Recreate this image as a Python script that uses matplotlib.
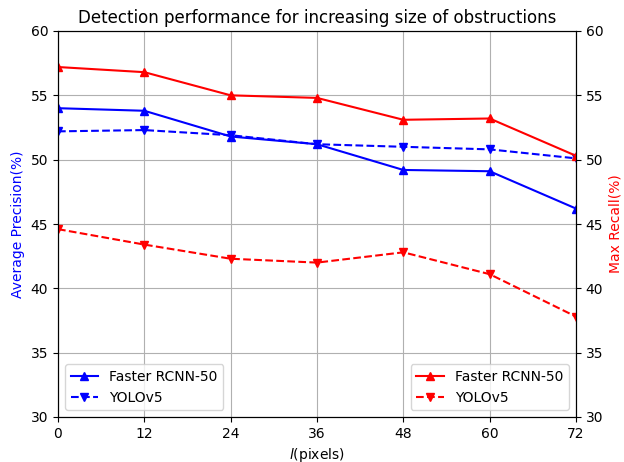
import matplotlib
matplotlib.use("Agg")
import matplotlib.pyplot as plt

x = [0, 12, 24, 36, 48, 60, 72]
ap_frcnn = [54.0, 53.8, 51.8, 51.2, 49.2, 49.1, 46.2]
ap_yolo = [52.2, 52.3, 51.9, 51.2, 51.0, 50.8, 50.1]
rec_frcnn = [57.2, 56.8, 55.0, 54.8, 53.1, 53.2, 50.3]
rec_yolo = [44.6, 43.4, 42.3, 42.0, 42.8, 41.1, 37.8]

fig, ax = plt.subplots(figsize=(6.24, 4.62), dpi=100)
fig.subplots_adjust(left=58/624, right=576/624, top=1-31/462, bottom=1-417/462)
ax.plot(x, ap_frcnn, color='blue', marker='^', linestyle='-', label='Faster RCNN-50')
ax.plot(x, ap_yolo, color='blue', marker='v', linestyle='--', label='YOLOv5')
ax.set_ylim(30, 60)
ax.set_xlim(0, 72)
ax.set_xticks(x)
ax.grid(True)
ax.set_ylabel('Average Precision(%)', color='blue')
ax.set_xlabel('$l$(pixels)')
ax.legend(loc='lower left')
ax.set_title('Detection performance for increasing size of obstructions')

ax2 = ax.twinx()
ax2.plot(x, rec_frcnn, color='red', marker='^', linestyle='-', label='Faster RCNN-50')
ax2.plot(x, rec_yolo, color='red', marker='v', linestyle='--', label='YOLOv5')
ax2.set_ylim(30, 60)
ax2.set_ylabel('Max Recall(%)', color='red')
ax2.legend(loc='lower right')

fig.savefig('out.png', dpi=100)
